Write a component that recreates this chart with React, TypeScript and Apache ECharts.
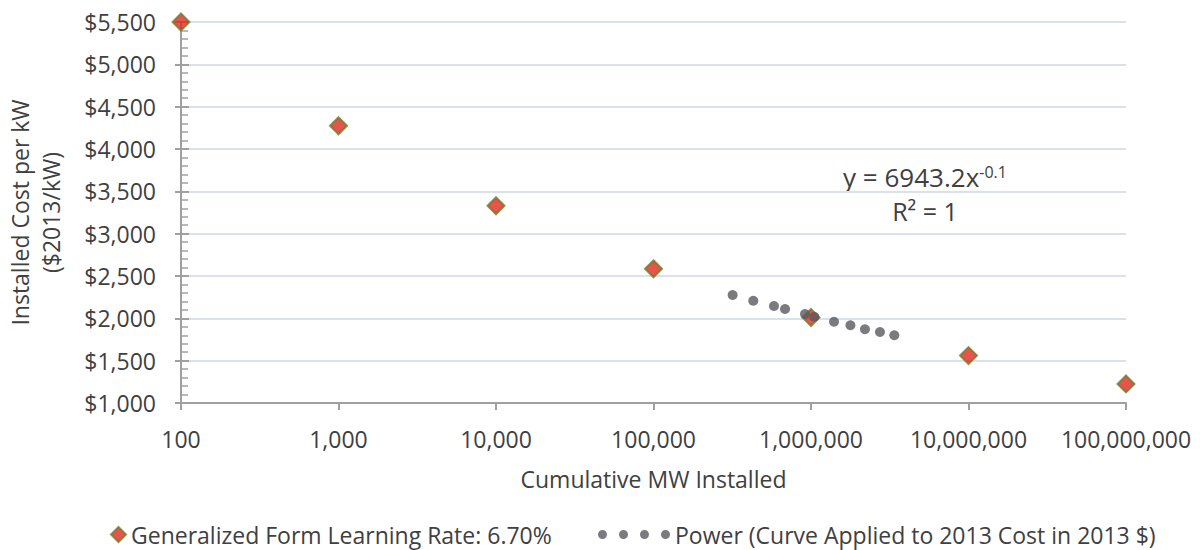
import React, { useEffect, useRef } from "react";
import * as echarts from "echarts";

const learningX = [100, 1000, 10000, 100000, 1000000, 10000000, 100000000];
const learningCost = [5500, 4275, 3330, 2585, 2010, 1560, 1225];

const powerX = [318000, 430000, 582000, 684000, 916000, 1050000, 1400000, 1780000, 2200000, 2740000, 3380000];
const powerCost = [2276, 2208, 2146, 2110, 2051, 2019, 1960, 1918, 1871, 1839, 1800];

const seriesNames = [
  "Generalized Form Learning Rate: 6.70%",
  "Power (Curve Applied to 2013 Cost in 2013 $)",
];
const yAxisTitle = "Installed Cost per kW\n($2013/kW)";
const xAxisTitle = "Cumulative MW Installed";
const equationMain = "y = 6943.2x";
const equationExp = "-0.1";
const rSquared = "R² = 1";

const FONT = "Open Sans";
const TEXT = "#404040";
const AXIS = "#A0A0A0";
const GRID = "#D9E1EB";

const dotsPath =
  "path://M0,4.5a4.5,4.5 0 1,0 9,0a4.5,4.5 0 1,0 -9,0Z M21,4.5a4.5,4.5 0 1,0 9,0a4.5,4.5 0 1,0 -9,0Z M42,4.5a4.5,4.5 0 1,0 9,0a4.5,4.5 0 1,0 -9,0Z M63,4.5a4.5,4.5 0 1,0 9,0a4.5,4.5 0 1,0 -9,0Z";

export default function App() {
  const ref = useRef<HTMLDivElement>(null);
  useEffect(() => {
    if (!ref.current) return;
    const chart = echarts.init(ref.current, undefined, { renderer: "svg" });
    const yCommon = {
      type: "value",
      min: 1000,
      max: 5500,
      interval: 500,
      position: "left",
    };
    chart.setOption({
      animation: false,
      backgroundColor: "#ffffff",
      textStyle: { fontFamily: FONT },
      grid: {
        left: 181,
        right: 78,
        top: 22,
        bottom: 147,
        containLabel: false,
        outerBoundsMode: "none",
      },
      xAxis: {
        type: "log",
        logBase: 10,
        min: 100,
        max: 100000000,
        interval: 1,
        splitNumber: 6,
        name: xAxisTitle,
        nameLocation: "middle",
        nameGap: 64,
        nameTextStyle: { fontSize: 23, color: TEXT, fontFamily: FONT },
        axisLine: { show: true, lineStyle: { color: AXIS, width: 2 } },
        axisTick: { show: true, length: 7, lineStyle: { color: AXIS, width: 2 } },
        axisLabel: {
          fontSize: 23,
          color: TEXT,
          fontFamily: FONT,
          margin: 24,
          formatter: (v: number) => Math.round(v).toLocaleString("en-US"),
        },
        splitLine: { show: false },
        minorTick: { show: false },
      },
      yAxis: [
        {
          ...yCommon,
          name: yAxisTitle,
          nameLocation: "middle",
          nameRotate: 90,
          nameGap: 115,
          nameTextStyle: { fontSize: 23, color: TEXT, fontFamily: FONT, lineHeight: 31 },
          axisLine: { show: true, lineStyle: { color: AXIS, width: 2 } },
          axisTick: { show: true, inside: false, length: 6, lineStyle: { color: AXIS, width: 2 } },
          axisLabel: {
            fontSize: 23,
            color: TEXT,
            fontFamily: FONT,
            margin: 25,
            formatter: (v: number) => "$" + v.toLocaleString("en-US"),
          },
          splitLine: { show: true, lineStyle: { color: GRID, width: 2 } },
        },
        {
          ...yCommon,
          axisLine: { show: false },
          axisLabel: { show: false },
          splitLine: { show: false },
          axisTick: { show: true, inside: true, length: 8, lineStyle: { color: AXIS, width: 2 } },
          minorTick: { show: true, splitNumber: 5, length: 7, lineStyle: { color: AXIS, width: 1.5 } },
        },
      ],
      legend: [
        {
          data: [{ name: seriesNames[0], icon: "diamond" }],
          left: 105,
          top: 518,
          itemWidth: 15,
          itemHeight: 15,
          textStyle: { fontSize: 23, color: TEXT, fontFamily: FONT },
          selectedMode: false,
        },
        {
          data: [{ name: seriesNames[1], icon: dotsPath }],
          left: 593,
          top: 518,
          itemWidth: 72,
          itemHeight: 9,
          textStyle: { fontSize: 23, color: TEXT, fontFamily: FONT },
          selectedMode: false,
        },
      ],
      graphic: [
        {
          type: "text",
          x: 925,
          y: 177,
          style: {
            text: "{a|" + equationMain + "}{s|" + equationExp + "}",
            align: "center",
            verticalAlign: "middle",
            fill: TEXT,
            rich: {
              a: { fontSize: 26, fontFamily: FONT, fill: TEXT, color: TEXT },
              s: { fontSize: 16, fontFamily: FONT, fill: TEXT, color: TEXT, verticalAlign: "top" },
            },
          },
        },
        {
          type: "text",
          x: 925,
          y: 211,
          style: {
            text: rSquared,
            align: "center",
            verticalAlign: "middle",
            fontSize: 25,
            fontFamily: FONT,
            fill: TEXT,
          },
        },
      ],
      series: [
        {
          name: seriesNames[0],
          type: "scatter",
          symbol: "diamond",
          symbolSize: 17,
          itemStyle: { color: "#E2291F", borderColor: "#737A2B", borderWidth: 2 },
          data: learningX.map((x, i) => [x, learningCost[i]]),
          z: 2,
        },
        {
          name: seriesNames[1],
          type: "scatter",
          symbol: "circle",
          symbolSize: 10,
          itemStyle: { color: "#59595F" },
          data: powerX.map((x, i) => [x, powerCost[i]]),
          z: 3,
        },
      ],
    });
    return () => chart.dispose();
  }, []);
  return (
    <div
      ref={ref}
      style={{ position: "fixed", left: 0, top: 0, width: 1204, height: 550, background: "#fff" }}
    />
  );
}
